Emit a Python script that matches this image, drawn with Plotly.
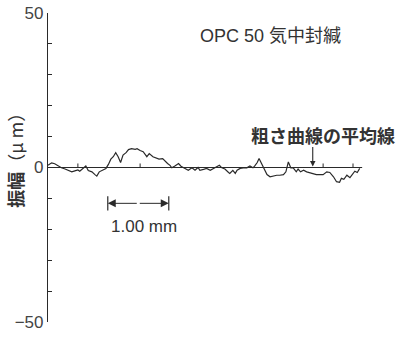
import plotly.graph_objects as go

# Roughness profile (x in mm, y in µm)
x_mm = [0.00, 0.06, 0.11, 0.17, 0.22, 0.28, 0.33, 0.39, 0.44, 0.49, 0.52, 0.58, 0.62, 0.66, 0.72,
        0.77, 0.80, 0.84, 0.90, 0.95, 0.99, 1.03, 1.07, 1.11, 1.15, 1.19, 1.23, 1.28, 1.32, 1.37,
        1.43, 1.46, 1.51, 1.56, 1.62, 1.66, 1.72, 1.77, 1.82, 1.88, 1.92, 1.96, 2.00, 2.03, 2.08,
        2.14, 2.18, 2.25, 2.30, 2.36, 2.41, 2.46, 2.49, 2.55, 2.60, 2.66, 2.71, 2.77, 2.81, 2.85,
        2.90, 2.96, 2.98, 3.03, 3.07, 3.10, 3.15, 3.20, 3.26, 3.31, 3.36, 3.39, 3.43, 3.46, 3.50,
        3.54, 3.59, 3.64, 3.69, 3.75, 3.80, 3.86, 3.90, 3.94, 3.98, 4.02, 4.07, 4.10, 4.14, 4.19,
        4.24, 4.30, 4.35, 4.40, 4.46, 4.51, 4.57, 4.62, 4.68, 4.73, 4.78, 4.81, 4.85, 4.90, 4.95,
        5.00, 5.03, 5.07, 5.11]
y_um = [0.7, 1.5, 1.2, 0.5, -0.1, -0.5, -1.0, -1.4, -1.1, -0.8, -1.2, -0.1, 0.5, -1.0, -1.4,
        -2.3, -2.8, -1.4, -0.9, -0.3, 1.0, 2.7, 3.5, 4.8, 3.5, 1.6, 4.0, 4.8, 5.8, 6.1,
        5.9, 6.1, 5.5, 5.1, 3.5, 4.5, 3.5, 3.1, 2.7, 2.9, 2.0, 1.3, 0.7, -0.1, 0.5,
        1.3, 0.4, -0.3, -0.9, -0.1, -0.9, 0.0, -0.9, -0.6, -0.3, -0.9, -0.3, 0.2, 0.7, -0.1,
        -0.5, -1.6, -1.9, -0.9, -1.9, -0.9, -0.3, -0.1, -0.1, 0.5, -0.1, 0.5, 1.6, 2.9, 1.3,
        -0.3, -2.3, -3.0, -2.7, -2.5, -2.5, -2.3, -1.4, 1.8, -0.1, -0.1, -1.4, -0.5, -1.4, -0.9,
        -1.4, -1.7, -1.9, -2.3, -2.3, -2.3, -1.4, -1.6, -3.0, -4.6, -4.8, -3.5, -3.8, -2.5, -3.3,
        -1.9, -1.2, -1.6, -0.3]

mean_line_x = [0.0, 5.15]
mean_line_y = [0.0, 0.0]
grid_marks_x = [0.49, 1.51, 4.51, 5.00]

y_tickvals = [-50, -40, -30, -20, -10, 0, 10, 20, 30, 40, 50]
y_ticktext = ["\u221250", "", "", "", "", "0", "", "", "", "", "50"]

scale_start = 0.98
scale_len = 1.0
scale_y = -11.6
scale_label = "1.00 mm"
title_text = "OPC 50 気中封緘"
mean_label = "粗さ曲線の平均線"
mean_arrow_x = 4.34
y_title_main = "振幅"
y_title_unit = "（μ m）"

ink = "#2a2a2a"
txt = "#333333"
font_fam = "Liberation Sans, Arial, Noto Sans CJK JP, sans-serif"
cjk_fam = "Noto Sans CJK JP, sans-serif"

fig = go.Figure()
fig.add_trace(go.Scatter(x=mean_line_x, y=mean_line_y, mode="lines",
                         line=dict(color=ink, width=1.1), hoverinfo="skip"))
fig.add_trace(go.Scatter(x=x_mm, y=y_um, mode="lines",
                         line=dict(color=ink, width=1.2), hoverinfo="skip"))

# small upward marks on the mean line
for gx in grid_marks_x:
    fig.add_shape(type="line", x0=gx, x1=gx, y0=0, y1=1.3,
                  line=dict(color=ink, width=1))

# scale bar
se = scale_start + scale_len
fig.add_shape(type="line", x0=scale_start, x1=scale_start, y0=scale_y - 2.3, y1=scale_y + 2.3,
              line=dict(color=ink, width=1.2))
fig.add_shape(type="line", x0=se, x1=se, y0=scale_y - 2.3, y1=scale_y + 2.3,
              line=dict(color=ink, width=1.2))
mid = scale_start + scale_len / 2
for end in (scale_start, se):
    fig.add_annotation(x=end, y=scale_y, ax=mid, ay=scale_y, xref="x", yref="y",
                       axref="x", ayref="y", showarrow=True, arrowhead=2, arrowsize=1.6,
                       arrowwidth=1, arrowcolor=ink, text="")
fig.add_annotation(x=mid + 0.09, y=scale_y - 7.5, xref="x", yref="y", text=scale_label,
                   showarrow=False, font=dict(size=17, color=txt, family=font_fam))

fig.add_annotation(x=3.64, y=42.4, xref="x", yref="y", text=title_text, showarrow=False,
                   font=dict(size=18, color=txt, family=font_fam))
fig.add_annotation(x=4.51, y=10.4, xref="x", yref="y", text="<b>" + mean_label + "</b>",
                   showarrow=False, font=dict(size=18, color=txt, family=cjk_fam))
fig.add_annotation(x=mean_arrow_x, y=0.3, ax=mean_arrow_x, ay=7.1, xref="x", yref="y",
                   axref="x", ayref="y", showarrow=True, arrowhead=2, arrowsize=1,
                   arrowwidth=1.1, arrowcolor=ink, text="")
fig.add_annotation(x=-0.0935, y=3.8, xref="paper", yref="y", xanchor="center", yanchor="middle",
                   text="<b>" + y_title_main + "</b>" + y_title_unit,
                   textangle=-90, showarrow=False,
                   font=dict(size=18, color=txt, family=cjk_fam))

fig.update_layout(
    width=401, height=338,
    margin=dict(l=48, r=0, t=13, b=16),
    paper_bgcolor="white", plot_bgcolor="white",
    showlegend=False,
    xaxis=dict(range=[0, 353 / 61], visible=False, fixedrange=True),
    yaxis=dict(range=[-50, 50], tickvals=y_tickvals, ticktext=y_ticktext,
               ticks="inside", ticklen=4, tickwidth=1, tickcolor=ink,
               showline=True, linecolor=ink, linewidth=1.2, showgrid=False,
               zeroline=False, tickfont=dict(size=17, color="#444444", family=font_fam),
               fixedrange=True),
)

fig.write_html("out.html")
